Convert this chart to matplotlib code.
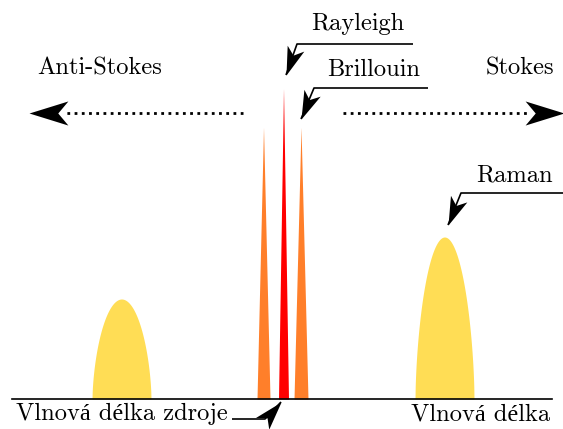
import numpy as np
import matplotlib.pyplot as plt
from matplotlib.path import Path
from matplotlib.markers import MarkerStyle
from matplotlib.transforms import Affine2D

################################################################################
## Data - peak positions / widths / heights (x: wavelength, y: intensity)
################################################################################

peak_names = ["Anti-Stokes Raman", "Brillouin AS", "Rayleigh", "Brillouin S", "Stokes Raman"]
peak_centers = [121.5, 263.5, 283.5, 301.0, 444.5]
peak_widths = [59, 13, 10, 14, 59]
peak_heights = [100, 272, 311, 272, 162]
peak_kinds = ["dome", "spike", "spike", "spike", "dome"]
peak_colors = ["#FFDD55", "#FF7F2A", "#FF0000", "#FF7F2A", "#FFDD55"]

baseline_range = [12, 552]

label_texts = ["Rayleigh", "Brillouin", "Raman", "Anti-Stokes", "Stokes",
               "Vlnová délka zdroje", "Vlnová délka"]

FONT = ["cmr10", "Liberation Serif"]
plt.rcParams["axes.unicode_minus"] = False


def peak_curve(center, width, height, kind):
    x = np.linspace(center - width / 2, center + width / 2, 300)
    t = (x - center) / (width / 2)
    if kind == "dome":
        y = height * np.clip(1 - t**2, 0, None) ** 0.6
    else:
        y = height * (1 - np.abs(t))
    return x, y


## stealth-like arrow head, tip sits at (0, 0)
stealth = Path([(0, 0), (-1, 0.31), (-0.74, 0), (-1, -0.31), (0, 0)],
               [Path.MOVETO, Path.LINETO, Path.LINETO, Path.LINETO, Path.CLOSEPOLY])


def arrow_head(ax, x, y, angle, size):
    m = MarkerStyle(stealth, transform=Affine2D().rotate_deg(angle))
    ax.plot(x, y, marker=m, markersize=size, color="black", markeredgewidth=0, zorder=5)


def leader(ax, xs, ys, angle, size=41):
    ax.plot(xs, ys, color="black", lw=1.2, solid_capstyle="butt", zorder=4)
    arrow_head(ax, xs[-1], ys[-1], angle, size)


fig = plt.figure(figsize=(5.63, 4.29), dpi=100)
ax = fig.add_axes([0, 0, 1, 1])
ax.set_xlim(0, 563)
ax.set_ylim(-30, 399)
ax.axis("off")

for c, w, h, k, col in zip(peak_centers, peak_widths, peak_heights, peak_kinds, peak_colors):
    x, y = peak_curve(c, w, h, k)
    ax.fill_between(x, 0, y, color=col, lw=0, zorder=2)

ax.plot(baseline_range, [0, 0], color="black", lw=1.2, zorder=3)

## direction arrows (dotted)
ax.plot([243, 64], [286, 286], color="black", lw=2.0, ls=(0, (1, 1.6)), zorder=3)
arrow_head(ax, 29, 286, 180, 56)
ax.plot([343, 530], [286, 286], color="black", lw=2.0, ls=(0, (1, 1.6)), zorder=3)
arrow_head(ax, 564, 286, 0, 56)

## annotation leaders
leader(ax, [413, 297, 286], [355, 355, 324], -109.5)
leader(ax, [428, 314, 301], [311, 311, 280], -112.8)
leader(ax, [563, 461, 448], [206, 206, 174], -112.0)
leader(ax, [232, 265, 281], [-20, -20, -3], 48.5)

fs = 17.6
ax.text(358, 375, label_texts[0], family=FONT, fontsize=fs, ha="center", va="center")
ax.text(374, 329, label_texts[1], family=FONT, fontsize=fs, ha="center", va="center")
ax.text(514, 224, label_texts[2], family=FONT, fontsize=fs, ha="center", va="center")
ax.text(100, 331, label_texts[3], family=FONT, fontsize=fs, ha="center", va="center")
ax.text(520, 331, label_texts[4], family=FONT, fontsize=fs, ha="center", va="center")
ax.text(16, -15, label_texts[5], family=FONT, fontsize=fs, ha="left", va="center")
ax.text(550, -15, label_texts[6], family=FONT, fontsize=fs, ha="right", va="center")

fig.savefig("out.png", dpi=100)
